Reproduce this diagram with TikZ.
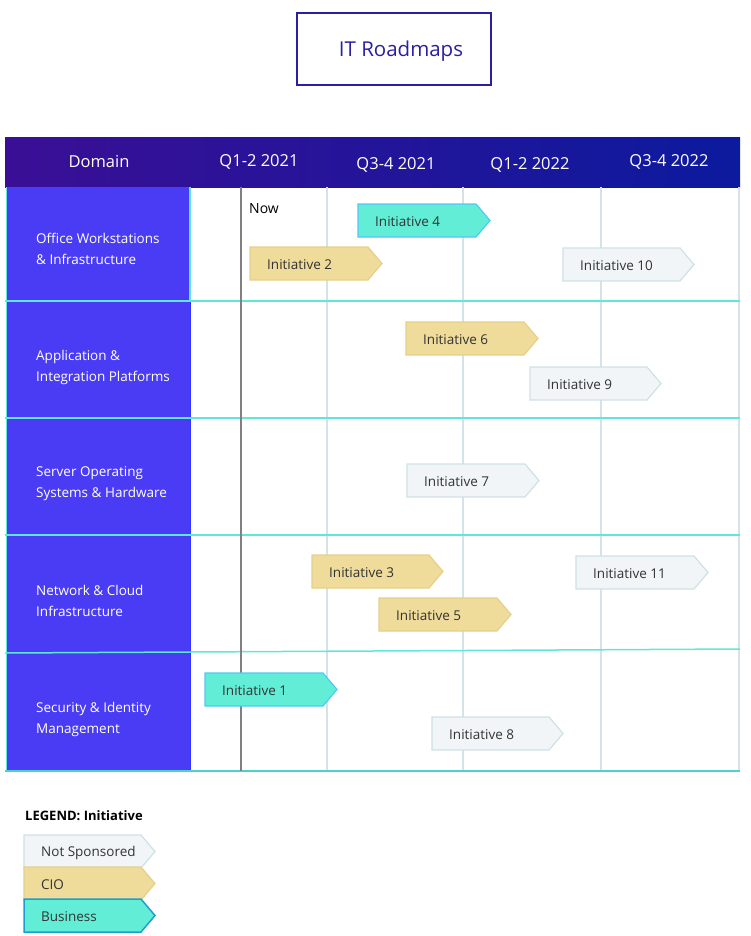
\documentclass[tikz,border=0pt]{standalone}
\usepackage{fontspec}
\setmainfont{Open Sans}
\definecolor{hdrL}{RGB}{58,15,150}
\definecolor{hdrR}{RGB}{12,26,158}
\definecolor{domfill}{RGB}{74,60,245}
\definecolor{sepcyan}{RGB}{94,232,216}
\definecolor{gridc}{RGB}{212,228,230}
\definecolor{nowc}{RGB}{128,128,128}
\definecolor{busfill}{RGB}{98,238,214}
\definecolor{busdraw}{RGB}{80,200,245}
\definecolor{busdrawL}{RGB}{26,159,208}
\definecolor{ciofill}{RGB}{239,219,154}
\definecolor{ciodraw}{RGB}{230,208,138}
\definecolor{nsfill}{RGB}{241,245,248}
\definecolor{nsdraw}{RGB}{207,225,229}
\definecolor{titlec}{RGB}{42,31,160}
\definecolor{txtc}{RGB}{51,51,51}
\tikzset{
  business/.style={fill=busfill,draw=busdraw,line width=1.2pt},
  businessL/.style={fill=busfill,draw=busdrawL,line width=1.5pt},
  cio/.style={fill=ciofill,draw=ciodraw,line width=1.2pt},
  notsp/.style={fill=nsfill,draw=nsdraw,line width=1.2pt},
  inittext/.style={anchor=west,inner sep=0pt,text=txtc,font=\fontsize{13.5}{15}\selectfont},
  domtext/.style={anchor=west,inner sep=0pt,text=white,align=left,font=\fontsize{13.5}{21}\selectfont},
  hdrtext/.style={inner sep=0pt,text=white,font=\fontsize{16.5}{18}\selectfont},
  sepline/.style={draw=sepcyan,line width=1.5pt},
  gridline/.style={draw=gridc,line width=1.5pt},
}
\newcommand\initv[6]{% name, x, ytop, style, text, width
  \draw[#4] (#2,#3) -- ++(#6-14,0) -- ++(14,16.5) -- ++(-14,16.5) -- ++(-#6+14,0) -- cycle;
  \node[inittext] (#1) at (#2+17,#3+18) {#5};
}
\begin{document}
\begin{tikzpicture}[x=1pt,y=-1pt]
\useasboundingbox (0,0) rectangle (750,936);
% title
\draw[titlec,line width=1.5pt] (297,13) rectangle (491,85);
\node[inner sep=0pt,text=titlec,font=\fontsize{20.5}{24}\selectfont] (title) at (401,51) {IT Roadmaps};
% header
\shade[left color=hdrL,right color=hdrR] (5,138) rectangle (740,187);
\node[hdrtext] (hdom) at (99,162) {Domain};
\node[hdrtext] (hq1) at (259,162) {Q1-2 2021};
\node[hdrtext] (hq2) at (396,165) {Q3-4 2021};
\node[hdrtext] (hq3) at (530,165) {Q1-2 2022};
\node[hdrtext] (hq4) at (669,162) {Q3-4 2022};
% grid lines
\foreach \gx in {327,463,601,739} \draw[gridline] (\gx,187) -- (\gx,771);
% domain column
\fill[domfill] (7,187) rectangle (190,771);
\draw[sepcyan,line width=1.2pt] (6.5,187) -- (6.5,771);
\draw[sepcyan,line width=1.2pt] (190,187) -- (190,301);
\draw[blue!80!white,line width=1pt] (190,301) -- (190,771);
% row separators
\draw[sepline] (5,301) -- (740,301);
\draw[sepline] (5,418) -- (740,418);
\draw[sepline] (5,535) -- (740,535);
\draw[sepline] (5,653) -- (740,649);
\draw[draw=sepcyan!80!teal,line width=1.8pt] (5,771) -- (740,771);
% now line
\draw[nowc,line width=1.5pt] (241,187) -- (241,771);
\node[anchor=west,inner sep=0pt,font=\fontsize{14}{16}\selectfont] (now) at (249,209) {Now};
% domain labels
\node[domtext] (d1) at (36,249) {Office Workstations\\\& Infrastructure};
\node[domtext] (d2) at (36,367) {Application \&\\Integration Platforms};
\node[domtext] (d3) at (36,484) {Server Operating\\Systems \& Hardware};
\node[domtext] (d4) at (36,601) {Network \& Cloud\\Infrastructure};
\node[domtext] (d5) at (36,719) {Security \& Identity\\Management};
% initiatives
\initv{i4}{358}{204}{business}{Initiative 4}{132}
\initv{i2}{250}{247}{cio}{Initiative 2}{132}
\initv{i10}{563}{248}{notsp}{Initiative 10}{131}
\initv{i6}{406}{322}{cio}{Initiative 6}{132}
\initv{i9}{530}{367}{notsp}{Initiative 9}{131}
\initv{i7}{407}{464}{notsp}{Initiative 7}{132}
\initv{i3}{312}{555}{cio}{Initiative 3}{131}
\initv{i11}{576}{556}{notsp}{Initiative 11}{132}
\initv{i5}{379}{598}{cio}{Initiative 5}{132}
\initv{i1}{205}{673}{business}{Initiative 1}{132}
\initv{i8}{432}{717}{notsp}{Initiative 8}{131}
% legend
\node[anchor=west,inner sep=0pt,font=\bfseries\fontsize{13}{15}\selectfont] (leg) at (25,816) {LEGEND: Initiative};
\initv{l1}{24}{835}{notsp}{Not Sponsored}{131}
\initv{l2}{24}{867}{cio}{CIO}{131}
\initv{l3}{24}{899}{businessL}{Business}{131}
\end{tikzpicture}
\end{document}
